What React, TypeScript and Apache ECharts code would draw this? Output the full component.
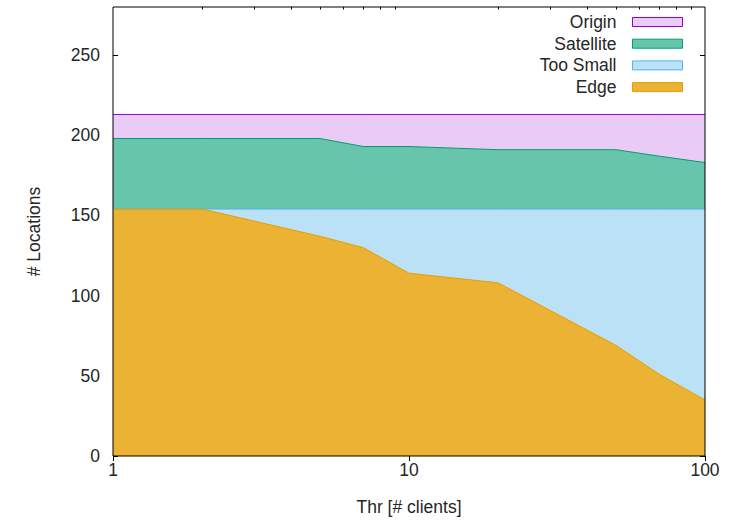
import React, { useEffect, useRef } from "react";
import * as echarts from "echarts";

const xs = [1, 2, 5, 7, 10, 20, 50, 70, 100];
const edge = [154, 154, 137, 130, 114, 108, 69, 51, 35];
const tooSmall = [0, 0, 17, 24, 40, 46, 85, 103, 119];
const satellite = [44, 44, 44, 39, 39, 37, 37, 33, 29];
const origin = [15, 15, 15, 20, 20, 22, 22, 26, 30];

const yTicks = [0, 50, 100, 150, 200, 250];
const xMajor = [1, 10, 100];
const xMinor = [2, 3, 4, 5, 6, 7, 8, 9, 20, 30, 40, 50, 60, 70, 80, 90];

const names = ["Origin", "Satellite", "Too Small", "Edge"];
const lineColors: Record<string, string> = {
  Origin: "#9400d3",
  Satellite: "#009e73",
  "Too Small": "#56b4e9",
  Edge: "#e69f00",
};
const fillColors: Record<string, string> = {
  Origin: "#eacbf6",
  Satellite: "#66c5ab",
  "Too Small": "#bbe1f6",
  Edge: "#ebb233",
};

const FONT = "'Liberation Sans', Arial, sans-serif";
const TXT = "#262626";
const FS = 17.5;

export default function App() {
  const ref = useRef<HTMLDivElement>(null);
  useEffect(() => {
    document.body.style.margin = "0";
    if (!ref.current) return;
    const chart = echarts.init(ref.current, null, { renderer: "svg" });
    // cumulative tops, bottom layer first
    const layers: [string, number[]][] = [
      ["Edge", edge],
      ["Too Small", tooSmall],
      ["Satellite", satellite],
      ["Origin", origin],
    ];
    const tops: Record<string, number[]> = {};
    let acc = xs.map(() => 0);
    for (const [n, v] of layers) {
      acc = acc.map((a, i) => a + v[i]);
      tops[n] = acc.slice();
    }
    const mk = (name: string) => ({
      name,
      type: "line",
      xAxisIndex: 0,
      yAxisIndex: 0,
      showSymbol: false,
      symbol: "none",
      data: xs.map((x, i) => [x, tops[name][i]]),
      lineStyle: { color: lineColors[name], width: 1 },
      itemStyle: { color: fillColors[name] },
      areaStyle: { color: fillColors[name], opacity: 1, origin: "start" },
    });
    chart.setOption({
      animation: false,
      backgroundColor: "#fff",
      textStyle: { fontFamily: FONT },
      grid: {
        left: 113,
        top: 7,
        width: 592,
        height: 451,
        show: true,
        z: 5,
        borderColor: "#000",
        borderWidth: 1,
        backgroundColor: "transparent",
      },
      legend: {
        orient: "vertical",
        right: 46,
        top: 12,
        padding: 0,
        align: "right",
        itemWidth: 50,
        itemHeight: 9,
        itemGap: 1.7,
        icon: "rect",
        selectedMode: false,
        textStyle: {
          fontFamily: FONT,
          fontSize: FS,
          color: TXT,
          lineHeight: 20,
          padding: [0, 11, 0, 0],
        },
        data: names.map((n) => ({
          name: n,
          itemStyle: { color: fillColors[n], borderColor: lineColors[n], borderWidth: 1 },
        })),
      },
      xAxis: [
        {
          type: "log",
          min: 1,
          max: 100,
          position: "bottom",
          name: "Thr [# clients]",
          nameLocation: "middle",
          nameGap: 42,
          nameTextStyle: { fontFamily: FONT, fontSize: FS, color: TXT },
          axisLine: { show: false },
          axisTick: { show: false },
          axisLabel: {
            margin: 5,
            fontFamily: FONT,
            fontSize: FS,
            color: TXT,
            customValues: xMajor,
          },
          splitLine: { show: false },
        },
        {
          type: "log",
          min: 1,
          max: 100,
          position: "top",
          axisLine: { show: false },
          axisTick: { show: true, inside: true, length: 5, lineStyle: { color: "#000" }, customValues: xMajor },
          axisLabel: { show: false },
          splitLine: { show: false },
        },
        {
          type: "log",
          min: 1,
          max: 100,
          position: "top",
          axisLine: { show: false },
          axisTick: { show: true, inside: true, length: 2.5, lineStyle: { color: "#000" }, customValues: xMinor },
          axisLabel: { show: false },
          splitLine: { show: false },
        },
      ],
      yAxis: [
        {
          type: "value",
          min: 0,
          max: 280,
          position: "left",
          name: "# Locations",
          nameLocation: "middle",
          nameGap: 70,
          nameTextStyle: { fontFamily: FONT, fontSize: FS, color: TXT },
          axisLine: { show: false },
          axisTick: { show: true, inside: true, length: 5, lineStyle: { color: "#000" }, customValues: yTicks },
          axisLabel: {
            margin: 13,
            fontFamily: FONT,
            fontSize: FS,
            color: TXT,
            customValues: yTicks,
          },
          splitLine: { show: false },
        },
        {
          type: "value",
          min: 0,
          max: 280,
          position: "right",
          axisLine: { show: false },
          axisTick: { show: true, inside: true, length: 5, lineStyle: { color: "#000" }, customValues: yTicks },
          axisLabel: { show: false },
          splitLine: { show: false },
        },
      ],
      series: [mk("Origin"), mk("Satellite"), mk("Too Small"), mk("Edge")],
    });
    return () => chart.dispose();
  }, []);
  return <div ref={ref} style={{ width: 729, height: 521 }} />;
}
